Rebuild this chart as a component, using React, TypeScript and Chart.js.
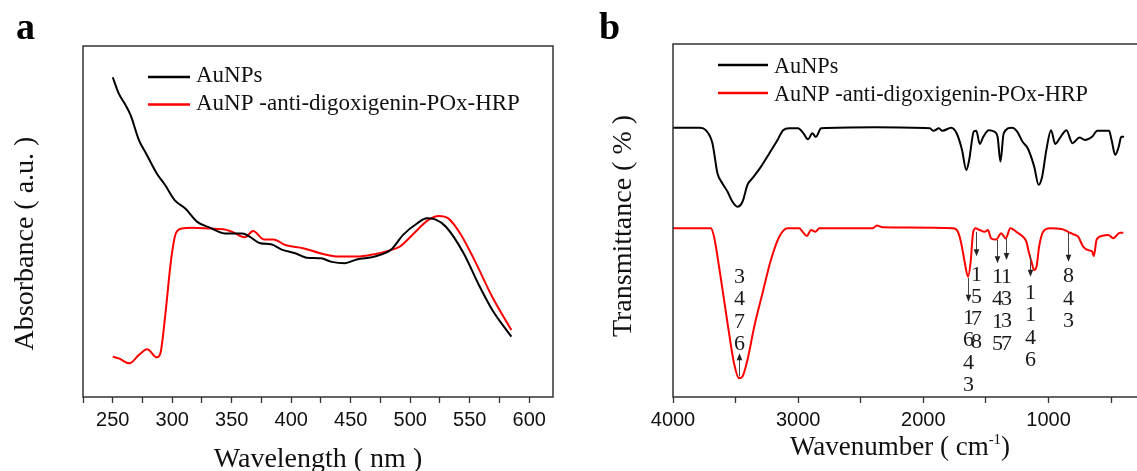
import React, { useEffect, useRef } from "react";
import { Chart, registerables } from "chart.js";

Chart.register(...registerables);

// ---------- data ----------
const seriesLabels = ["AuNPs", "AuNP -anti-digoxigenin-POx-HRP"];
const seriesColors = ["#000000", "#ff0000"];

const uvTickValues = [225, 250, 275, 300, 325, 350, 375, 400, 425, 450, 475, 500, 525, 550, 575, 600];
const uvTickLabels = [250, 300, 350, 400, 450, 500, 550, 600];
const irTickValues = [4000, 3500, 3000, 2500, 2000, 1500, 1000, 500];
const irTickLabels = [4000, 3000, 2000, 1000];

const uvAuWavelength = [250, 255, 260, 265, 272, 278, 287, 294, 302, 311, 321, 332, 344, 359, 365, 374, 383, 392, 404, 413, 425, 434, 445, 455, 470, 484, 494, 506, 514, 521, 530, 545, 557, 569, 585];
const uvAuAbsorbance = [91.1, 86.5, 83.6, 80.3, 73.2, 69.4, 63.7, 60.4, 56.1, 53.7, 49.9, 48.2, 46.6, 46.6, 45.7, 43.8, 43.5, 42.0, 40.9, 39.7, 39.5, 38.5, 38.1, 39.2, 40.0, 42.0, 46.2, 49.5, 50.9, 50.6, 48.5, 40.9, 32.4, 24.8, 17.2];

const uvConjWavelength = [250, 255, 264, 272, 279, 287, 290, 294, 299, 303, 308, 317, 335, 343, 350, 361, 368, 377, 385, 395, 410, 425, 440, 455, 470, 482, 491, 503, 515, 524, 532, 542, 554, 569, 585];
const uvConjAbsorbance = [11.5, 11.0, 9.6, 12.0, 13.6, 11.3, 12.4, 22.9, 39.0, 46.6, 48.0, 48.2, 47.9, 47.8, 47.1, 45.5, 47.3, 44.9, 44.9, 43.3, 42.4, 40.9, 40.0, 40.0, 40.7, 41.7, 42.8, 46.6, 50.4, 51.6, 50.9, 46.6, 39.0, 28.5, 19.1];

const irAuWavenumber = [4000, 3784, 3738, 3685, 3645, 3605, 3565, 3525, 3485, 3445, 3405, 3365, 3298, 3231, 3165, 3120, 3072, 3001, 2958, 2921, 2887, 2859, 2816, 2389, 1948, 1919, 1876, 1848, 1777, 1734, 1691, 1657, 1634, 1597, 1577, 1549, 1521, 1478, 1435, 1407, 1384, 1358, 1293, 1250, 1207, 1165, 1114, 1079, 1051, 1017, 980, 946, 903, 857, 809, 752, 709, 652, 610, 516, 496, 467, 439, 419, 396];
const irAuTransmittance = [76.3, 76.3, 75.6, 71.9, 63.4, 60.5, 58.2, 55.3, 53.9, 55.3, 60.1, 62.0, 65.2, 69.0, 72.8, 75.6, 76.1, 76.1, 74.7, 73.0, 74.7, 73.7, 76.1, 76.4, 76.1, 75.4, 76.1, 75.4, 76.3, 74.7, 70.0, 64.3, 67.1, 75.2, 75.4, 71.7, 73.7, 75.6, 75.2, 73.7, 66.7, 74.7, 76.3, 75.2, 72.3, 70.4, 65.2, 60.1, 62.4, 70.0, 75.6, 71.7, 73.7, 75.6, 71.9, 73.5, 72.8, 73.7, 75.4, 75.4, 72.8, 68.6, 70.9, 73.7, 73.7];

const irConjWavenumber = [4000, 3698, 3672, 3632, 3592, 3552, 3512, 3472, 3445, 3405, 3351, 3285, 3218, 3151, 3085, 2991, 2965, 2930, 2898, 2863, 2831, 2404, 2372, 2324, 1764, 1724, 1697, 1670, 1643, 1622, 1603, 1582, 1550, 1510, 1484, 1458, 1418, 1378, 1342, 1305, 1257, 1204, 1177, 1155, 1136, 1115, 1096, 1075, 1043, 989, 896, 843, 803, 763, 723, 683, 651, 638, 616, 576, 523, 483, 429, 402];
const irConjTransmittance = [47.8, 47.8, 45.4, 36.9, 27.5, 18.0, 9.5, 5.3, 5.8, 10.5, 19.9, 29.4, 38.8, 45.4, 47.8, 47.8, 46.8, 45.6, 47.3, 46.8, 47.8, 47.8, 48.6, 48.1, 47.8, 46.8, 43.5, 38.3, 34.1, 38.3, 46.4, 47.8, 47.3, 46.8, 47.3, 44.9, 44.6, 46.4, 44.9, 47.8, 46.8, 45.4, 44.0, 40.7, 38.3, 36.0, 36.9, 42.6, 46.8, 47.8, 47.6, 46.8, 46.1, 45.4, 42.6, 41.6, 41.2, 39.9, 44.5, 45.6, 45.9, 45.0, 46.5, 46.5];

// peak annotations (panel b)
const peakLabels = ["3476", "1643", "1578", "1415", "1337", "1146", "843"];
const peakArrowFrom = [5.8, 33.7, 46.8, 44.5, 45.0, 40.2, 46.5];
const peakArrowTo = [12.4, 27.0, 39.9, 37.9, 38.8, 34.1, 38.3];
const peakTextTop = [33.9, 22.3, 34.6, 33.9, 34.0, 29.4, 34.1];

// ---------- helpers ----------
const SERIF = '"Liberation Serif", "Times New Roman", serif';
const SANS = '"Liberation Sans", Arial, sans-serif';

const zip = (xs: number[], ys: number[]) => xs.map((x, i) => ({ x, y: ys[i] }));

function dataset(label: string, color: string, pts: { x: number; y: number }[]) {
  return {
    label,
    data: pts,
    borderColor: color,
    backgroundColor: color,
    borderWidth: 2,
    pointRadius: 0,
    cubicInterpolationMode: "monotone" as const,
    fill: false,
  };
}

type DecorCfg = {
  letter: string;
  letterX: number;
  openRight: boolean;
  legendX1: number;
  legendX2: number;
  legendY: number;
  legendGap: number;
  legendTextX: number;
  legendTextDy: number;
  legendSize: number;
  xTitleX: number;
  xTitleY: number;
  xTitleSize: number;
  xTitle: string;
  xTitleSup?: string;
  xTitleEnd?: string;
  yTitle: string;
  yTitleX: number;
  yTitleY: number;
  peaks?: boolean;
};

function decorPlugin(cfg: DecorCfg) {
  return {
    id: "decor",
    afterDraw(chart: any) {
      const ctx = chart.ctx as CanvasRenderingContext2D;
      const a = chart.chartArea;
      ctx.save();
      // frame
      ctx.strokeStyle = "#333";
      ctx.lineWidth = 1.5;
      ctx.beginPath();
      if (cfg.openRight) {
        ctx.moveTo(a.right + 2, a.top);
        ctx.lineTo(a.left, a.top);
        ctx.lineTo(a.left, a.bottom);
        ctx.lineTo(a.right + 2, a.bottom);
      } else {
        ctx.rect(a.left, a.top, a.right - a.left, a.bottom - a.top);
      }
      ctx.stroke();

      // panel letter
      ctx.fillStyle = "#000";
      ctx.font = `bold 38px ${SERIF}`;
      ctx.textAlign = "left";
      ctx.textBaseline = "alphabetic";
      ctx.fillText(cfg.letter, cfg.letterX, 39);

      // legend
      chart.data.datasets.forEach((ds: any, i: number) => {
        const y = cfg.legendY + i * cfg.legendGap;
        ctx.strokeStyle = ds.borderColor;
        ctx.lineWidth = 2.5;
        ctx.beginPath();
        ctx.moveTo(cfg.legendX1, y);
        ctx.lineTo(cfg.legendX2, y);
        ctx.stroke();
        ctx.fillStyle = "#111";
        ctx.font = `${cfg.legendSize}px ${SERIF}`;
        ctx.textAlign = "left";
        ctx.textBaseline = "alphabetic";
        ctx.fillText(ds.label, cfg.legendTextX, y + cfg.legendTextDy);
      });

      // x title
      ctx.fillStyle = "#111";
      ctx.textBaseline = "alphabetic";
      const big = `${cfg.xTitleSize}px ${SERIF}`;
      const small = `${Math.round(cfg.xTitleSize * 0.55)}px ${SERIF}`;
      ctx.font = big;
      const w1 = ctx.measureText(cfg.xTitle).width;
      let w2 = 0;
      let w3 = 0;
      if (cfg.xTitleSup) {
        ctx.font = small;
        w2 = ctx.measureText(cfg.xTitleSup).width;
        ctx.font = big;
        w3 = ctx.measureText(cfg.xTitleEnd || "").width;
      }
      const x0 = cfg.xTitleX - (w1 + w2 + w3) / 2;
      ctx.textAlign = "left";
      ctx.font = big;
      ctx.fillText(cfg.xTitle, x0, cfg.xTitleY);
      if (cfg.xTitleSup) {
        ctx.font = small;
        ctx.fillText(cfg.xTitleSup, x0 + w1, cfg.xTitleY - cfg.xTitleSize * 0.4);
        ctx.font = big;
        ctx.fillText(cfg.xTitleEnd || "", x0 + w1 + w2, cfg.xTitleY);
      }

      // y title
      ctx.save();
      ctx.translate(cfg.yTitleX, cfg.yTitleY);
      ctx.rotate(-Math.PI / 2);
      ctx.font = `28px ${SERIF}`;
      ctx.textAlign = "center";
      ctx.textBaseline = "alphabetic";
      ctx.fillText(cfg.yTitle, 0, 0);
      ctx.restore();

      // peak annotations
      if (cfg.peaks) {
        const xs = chart.scales.x;
        const ys = chart.scales.y;
        peakLabels.forEach((lab, i) => {
          const px = Math.round(xs.getPixelForValue(Number(lab))) + 0.5;
          const y1 = ys.getPixelForValue(peakArrowFrom[i]);
          const y2 = ys.getPixelForValue(peakArrowTo[i]);
          const dir = y2 > y1 ? 1 : -1;
          ctx.strokeStyle = "#444";
          ctx.fillStyle = "#222";
          ctx.lineWidth = 1;
          ctx.beginPath();
          ctx.moveTo(px, y1);
          ctx.lineTo(px, y2 - dir * 5);
          ctx.stroke();
          ctx.beginPath();
          ctx.moveTo(px, y2);
          ctx.lineTo(px - 2.8, y2 - dir * 7);
          ctx.lineTo(px + 2.8, y2 - dir * 7);
          ctx.closePath();
          ctx.fill();
          ctx.font = `22px ${SERIF}`;
          ctx.textAlign = "center";
          ctx.textBaseline = "middle";
          ctx.fillStyle = "#1a1a1a";
          const t0 = ys.getPixelForValue(peakTextTop[i]);
          lab.split("").forEach((d, k) => {
            ctx.fillText(d, px, t0 + k * 22.3);
          });
        });
      }
      ctx.restore();
    },
  };
}

function xAxis(min: number, max: number, tickValues: number[], labels: number[], reverse: boolean) {
  return {
    type: "linear" as const,
    min,
    max,
    reverse,
    afterBuildTicks: (s: any) => {
      s.ticks = tickValues.map((v) => ({ value: v }));
    },
    afterFit: (s: any) => {
      s.height = 74;
    },
    border: { display: false },
    grid: {
      display: true,
      drawOnChartArea: false,
      drawTicks: true,
      tickLength: 6,
      tickColor: "#333",
      tickWidth: 1.3,
    },
    ticks: {
      autoSkip: false,
      maxRotation: 0,
      minRotation: 0,
      padding: 5,
      color: "#111",
      font: { family: SANS, size: 20 },
      callback: (v: any) => (labels.includes(Number(v)) ? String(v) : ""),
    },
  };
}

export default function App() {
  const refA = useRef<HTMLCanvasElement | null>(null);
  const refB = useRef<HTMLCanvasElement | null>(null);

  useEffect(() => {
    const chartA = new Chart(refA.current as HTMLCanvasElement, {
      type: "line",
      data: {
        datasets: [
          dataset(seriesLabels[0], seriesColors[0], zip(uvAuWavelength, uvAuAbsorbance)),
          dataset(seriesLabels[1], seriesColors[1], zip(uvConjWavelength, uvConjAbsorbance)),
        ],
      },
      options: {
        responsive: false,
        animation: false,
        devicePixelRatio: 1,
        layout: { padding: { left: 83, top: 46, right: 7, bottom: 0 } },
        plugins: { legend: { display: false }, tooltip: { enabled: false } },
        scales: {
          x: xAxis(225, 620, uvTickValues, uvTickLabels, false),
          y: { type: "linear", min: 0, max: 100, display: false },
        },
      } as any,
      plugins: [
        decorPlugin({
          letter: "a",
          letterX: 16,
          openRight: false,
          legendX1: 148,
          legendX2: 190,
          legendY: 77,
          legendGap: 27.5,
          legendTextX: 196,
          legendTextDy: 5,
          legendSize: 23,
          xTitleX: 318,
          xTitleY: 467,
          xTitleSize: 28,
          xTitle: "Wavelength ( nm )",
          yTitle: "Absorbance ( a.u. )",
          yTitleX: 33,
          yTitleY: 243.5,
        }),
      ],
    });

    const chartB = new Chart(refB.current as HTMLCanvasElement, {
      type: "line",
      data: {
        datasets: [
          dataset(seriesLabels[0], seriesColors[0], zip(irAuWavenumber, irAuTransmittance)),
          dataset(seriesLabels[1], seriesColors[1], zip(irConjWavenumber, irConjTransmittance)),
        ],
      },
      options: {
        responsive: false,
        animation: false,
        devicePixelRatio: 1,
        layout: { padding: { left: 93, top: 44, right: 0, bottom: 0 } },
        plugins: { legend: { display: false }, tooltip: { enabled: false } },
        scales: {
          x: xAxis(293, 4000, irTickValues, irTickLabels, true),
          y: { type: "linear", min: 0, max: 100, display: false },
        },
      } as any,
      plugins: [
        decorPlugin({
          letter: "b",
          letterX: 19,
          openRight: true,
          legendX1: 138,
          legendX2: 188,
          legendY: 65,
          legendGap: 28,
          legendTextX: 194,
          legendTextDy: 8,
          legendSize: 22.3,
          xTitleX: 320,
          xTitleY: 455,
          xTitleSize: 27,
          xTitle: "Wavenumber ( cm",
          xTitleSup: "-1",
          xTitleEnd: ")",
          yTitle: "Transmittance ( % )",
          yTitleX: 51,
          yTitleY: 226,
          peaks: true,
        }),
      ],
    });

    return () => {
      chartA.destroy();
      chartB.destroy();
    };
  }, []);

  return (
    <div
      style={{
        position: "absolute",
        left: 0,
        top: 0,
        width: 1137,
        height: 471,
        background: "#fff",
        overflow: "hidden",
      }}
    >
      <canvas
        ref={refA}
        width={560}
        height={471}
        style={{ position: "absolute", left: 0, top: 0, width: 560, height: 471 }}
      />
      <canvas
        ref={refB}
        width={557}
        height={471}
        style={{ position: "absolute", left: 580, top: 0, width: 557, height: 471 }}
      />
    </div>
  );
}
